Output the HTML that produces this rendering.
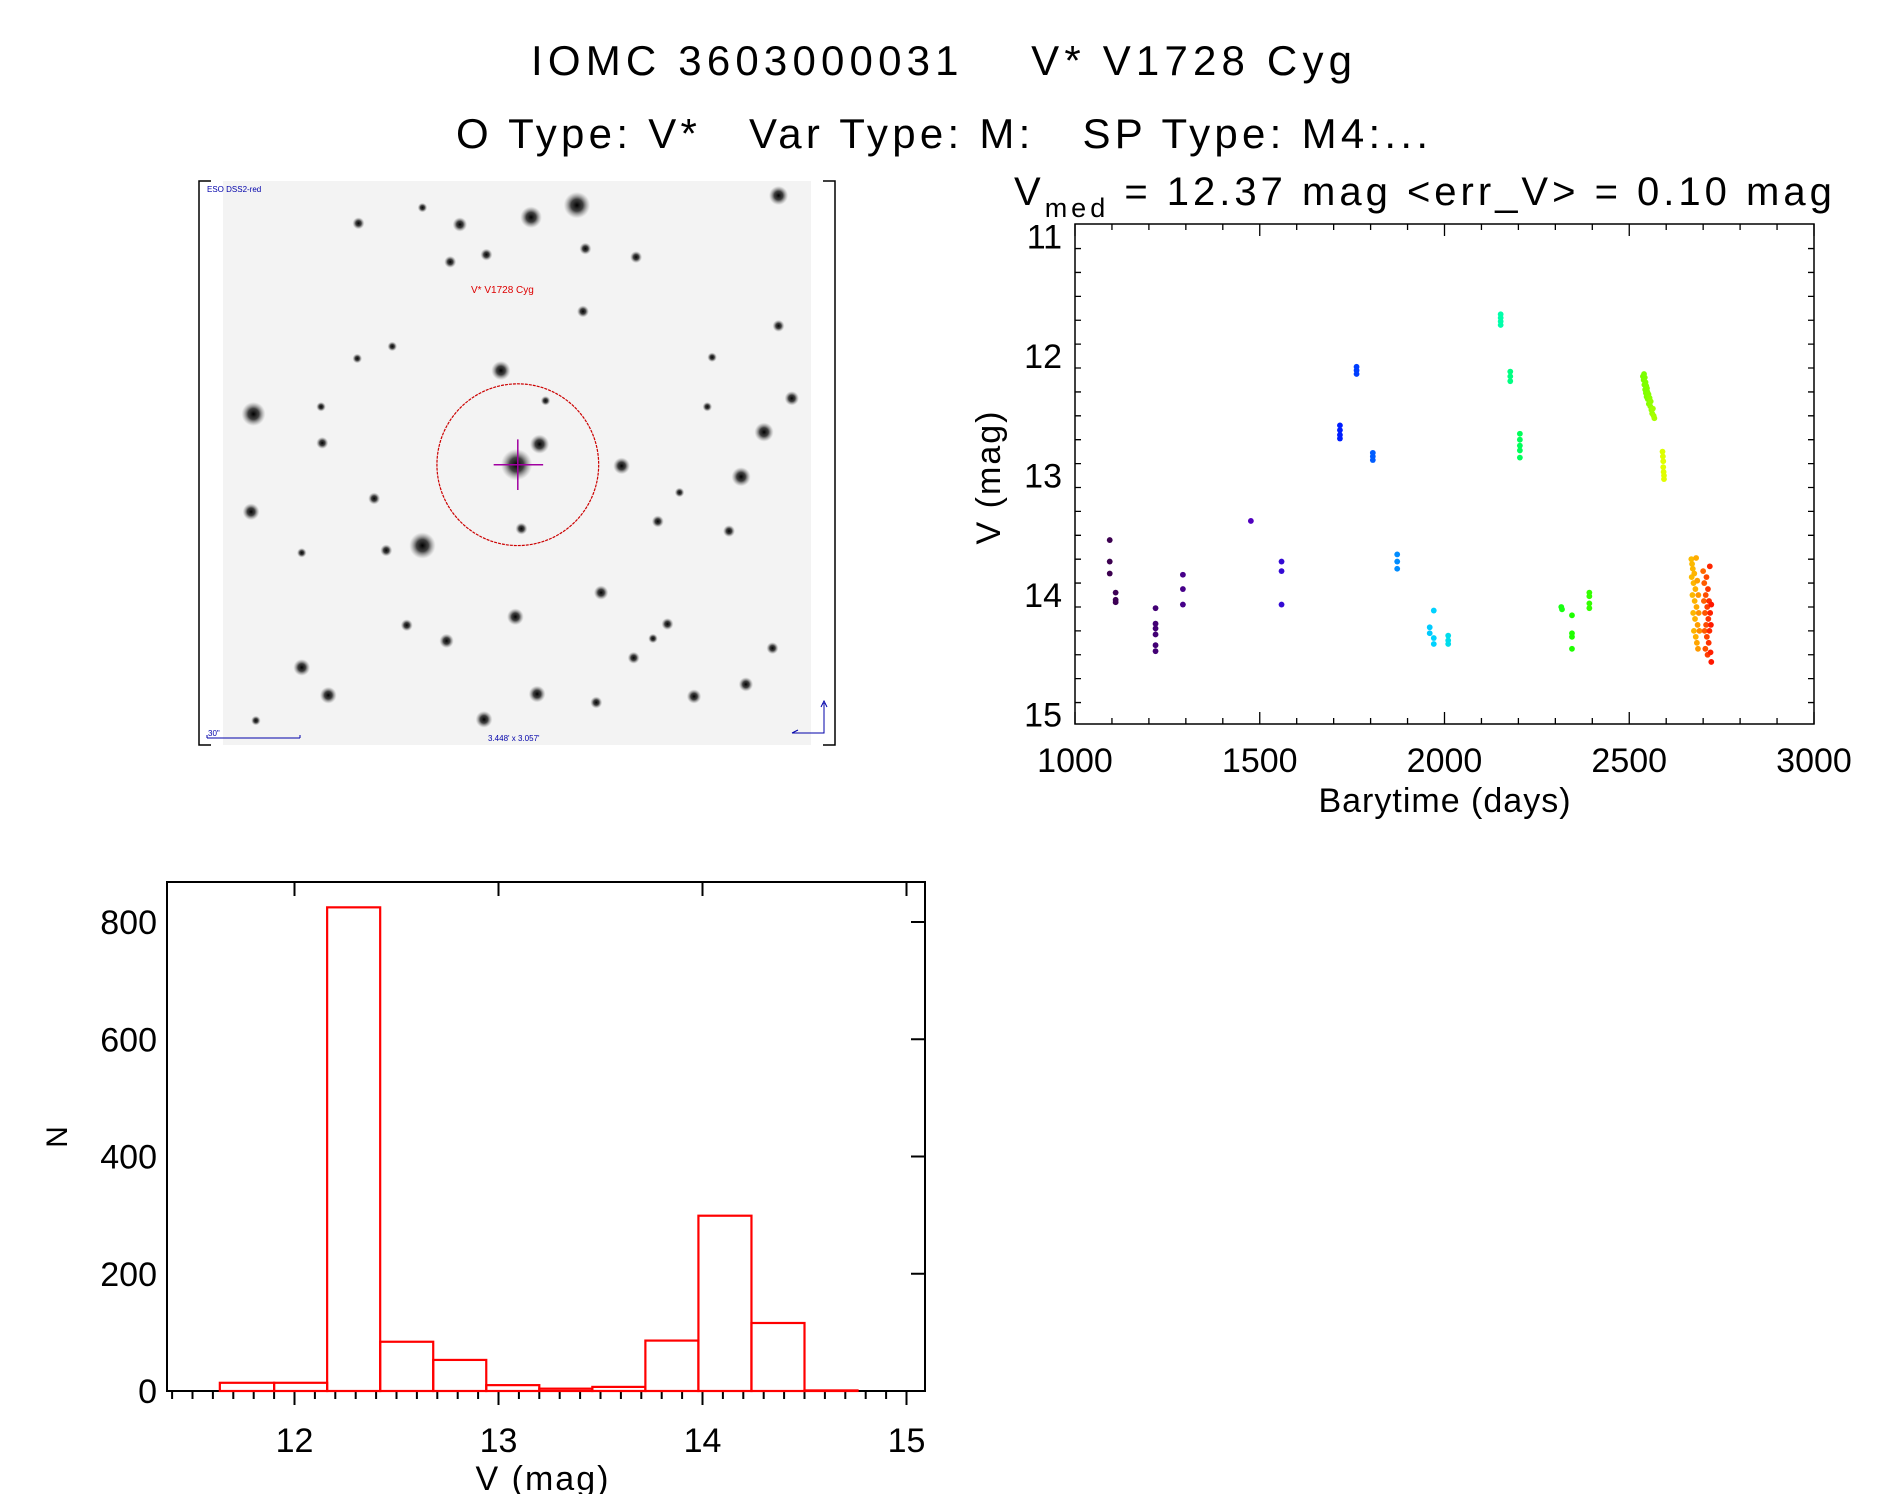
<!DOCTYPE html>
<html><head><meta charset="utf-8"><style>
body{margin:0;background:#fff;}
svg{display:block;font-family:"Liberation Sans",sans-serif;}
</style></head><body>
<svg id="root" width="1889" height="1494" viewBox="0 0 1889 1494" xmlns="http://www.w3.org/2000/svg">
<text x="531" y="75" font-size="42" textLength="821" lengthAdjust="spacing" xml:space="preserve">IOMC 3603000031    V* V1728 Cyg</text>
<text x="456" y="148" font-size="42" textLength="972" lengthAdjust="spacing" xml:space="preserve">O Type: V*   Var Type: M:   SP Type: M4:...</text>
<text x="1014" y="205" font-size="40" letter-spacing="4" xml:space="preserve">V<tspan font-size="27" dy="12">med</tspan><tspan dy="-12"> = 12.37 mag &lt;err_V&gt; = 0.10 mag</tspan></text>
<g id="img"></g>
<g id="lc"></g>
<g id="hist"></g>
</svg>
<script>
// ---------- light curve data ----------
const lcTimes = [1094,1094,1094,1110,1110,1110,
 1218,1218,1218,1218,1218,1218,
 1292,1292,1292,1476,1559,1559,1559,
 1717,1717,1717,1717,1762,1762,1762,1806,1806,1806,
 1872,1872,1872,1960,1960,1971,1971,1971,2010,2010,2010,
 2152,2152,2152,2152,2178,2178,2178,2204,2204,2204,2204,2204,
 2316,2318,2345,2345,2345,2345,2392,2392,2392,2392,
 2537,2539,2540,2541,2542,2543,2544,2545,2546,2547,2548,2549,2550,2552,2553,2555,2557,2558,2560,2562,2564,2566,2568,
 2590,2591,2592,2592,2593,2594,2594,
 2668,2669,2670,2671,2672,2673,2674,2675,2676,2677,2678,2679,2680,2681,2682,2683,2684,2685,2686,2687,2688,2690,
 2700,2702,2703,2704,2705,2706,2707,2708,2709,2710,2711,2712,2713,2714,2715,2716,2717,2718,2719,2720,2721,2722,2722];
const lcMags = [13.54,13.72,13.82,13.98,14.04,14.06,
 14.11,14.24,14.28,14.33,14.42,14.47,
 13.83,13.95,14.08,13.38,13.72,13.80,14.08,
 12.58,12.62,12.66,12.69,12.09,12.12,12.15,12.81,12.84,12.87,
 13.66,13.72,13.78,14.27,14.32,14.13,14.36,14.41,14.34,14.38,14.41,
 11.65,11.68,11.71,11.74,12.13,12.17,12.21,12.65,12.70,12.75,12.79,12.85,
 14.10,14.12,14.17,14.32,14.35,14.45,13.98,14.01,14.07,14.11,
 12.17,12.20,12.15,12.24,12.18,12.28,12.22,12.31,12.25,12.34,12.27,12.30,12.36,12.32,12.40,12.35,12.42,12.38,12.45,12.48,12.44,12.50,12.52,
 12.80,12.84,12.88,12.93,12.97,13.00,13.03,
 13.70,13.85,13.74,14.00,13.78,14.15,13.90,14.30,13.82,14.05,14.20,13.95,14.35,13.69,14.10,14.40,13.88,14.25,14.45,14.00,14.15,14.30,
 13.80,14.05,13.90,14.30,14.15,14.45,14.00,14.25,13.85,14.35,14.10,14.50,13.95,14.20,14.40,14.05,14.30,13.76,14.15,14.48,14.25,14.56,14.08];
const lcXTicks = [1000,1500,2000,2500,3000];
const lcYTicks = [11,12,13,14,15];

// ---------- histogram data ----------
const binEdges = [11.634,11.90,12.16,12.42,12.68,12.94,13.20,13.46,13.72,13.98,14.24,14.50,14.76];
const binCounts = [14,14,825,84,53,10,4,7,86,299,116,1];
const histXTicks = [12,13,14,15];
const histYTicks = [0,200,400,600,800];

const NS='http://www.w3.org/2000/svg';
function mk(parent,tag,attrs){const e=document.createElementNS(NS,tag);for(const k in attrs)e.setAttribute(k,attrs[k]);parent.appendChild(e);return e;}

// ---------- finder image ----------
(function(){
 const g=document.getElementById('img');
 const S=1.207;
 const r1=mk(g,'rect',{x:223,y:181,width:588,height:564,fill:'#f3f3f3'});
 
 
 const fr=mk(g,'path',{d:'M211 181 H199 V745 H211 M823 181 H835 V745 H823',fill:'none',stroke:'#000','stroke-width':1.5});
 
 
 const defs=mk(g,'defs',{});
 const rg=mk(defs,'radialGradient',{id:'st'});
 mk(rg,'stop',{offset:'0','stop-color':'#000','stop-opacity':'1'});
 mk(rg,'stop',{offset:'0.45','stop-color':'#222','stop-opacity':'0.85'});
 mk(rg,'stop',{offset:'1','stop-color':'#888','stop-opacity':'0'});
 const stars=[[478,170,11],[440,180,9],[645,162,8],[210,343,10],[350,452,11],[428,385,13],[447,368,8],[633,358,8],[614,395,8],[415,307,8],[208,424,7],[427,511,7],[515,386,7],[272,576,7],[250,553,7],[445,575,7],[401,596,7],[370,531,6],[498,491,6],[656,330,6],[575,577,6],[618,567,6],[604,440,5],[545,432,5],[320,456,5],[553,517,5],[525,545,5],[403,211,5],[373,217,5],[527,213,5],[483,258,5],[267,367,5],[310,413,5],[645,270,5],[590,296,4],[297,185,5],[350,172,4],[381,186,6],[485,206,5],[432,438,5],[266,337,4],[337,518,5],[494,582,5],[541,529,4],[640,537,5],[586,337,4],[212,597,4],[452,332,4],[325,287,4],[296,297,4],[563,408,4],[250,458,4]];
 stars.forEach(s=>{const c=mk(g,'circle',{cx:s[0]*S,cy:s[1]*S,r:s[2]*S,fill:'url(#st)'});
  
  });
 const circ=mk(g,'circle',{cx:429*S,cy:385*S,r:67*S,fill:'none',stroke:'#c00','stroke-width':1.2,'stroke-dasharray':'3 1'});
 
 
 const cr=mk(g,'path',{d:`M${409*S} ${385*S}H${450*S}M${429*S} ${364*S}V${406*S}`,stroke:'#a000a0','stroke-width':1.5});
 
 
 const t=mk(g,'text',{x:471,y:293,'font-size':10,fill:'#d00'});t.textContent='V* V1728 Cyg';
 
 
 const t2=mk(g,'text',{x:207,y:192,'font-size':8,fill:'#00a'});t2.textContent='ESO DSS2-red';
 
 
 const t3=mk(g,'text',{x:488,y:741,'font-size':8,fill:'#00a'});t3.textContent="3.448' x 3.057'";
 
 
 const t4=mk(g,'text',{x:208,y:736,'font-size':8,fill:'#00a'});t4.textContent='30"';
 
 
 const sb=mk(g,'path',{d:'M207 738H300M207 735V738M300 735V738',stroke:'#00a',fill:'none','stroke-width':1});
 
 
 const cp=mk(g,'path',{d:'M792 733H824V703M821 707L824 701L827 707M792 733L798 730',stroke:'#00a',fill:'none','stroke-width':1});
 
 
})();

// ---------- light curve ----------
(function(){
 const g=document.getElementById('lc');
 const L=1075,R=1814,T=224,B=724;
 const x=v=>L+(v-1000)/2000*(R-L);
 const y=m=>236.6+(m-11)*(714.5-236.6)/4;
 const stops=[[1094,[60,0,80]],[1476,[80,0,190]],[1717,[0,30,255]],[1872,[0,140,255]],[1970,[0,210,255]],[2152,[0,255,170]],[2204,[0,255,90]],[2345,[30,255,0]],[2550,[128,255,0]],[2592,[224,255,0]],[2680,[255,176,0]],[2724,[255,16,0]]];
 function col(t){for(let i=0;i<stops.length-1;i++){const a=stops[i],b=stops[i+1];if(t<=b[0]){const f=Math.max(0,(t-a[0])/(b[0]-a[0]));return 'rgb('+a[1].map((c,k)=>Math.round(c+(b[1][k]-c)*f)).join(',')+')';}}return 'rgb(255,16,0)';}
 const frame=mk(g,'rect',{x:L,y:T,width:R-L,height:B-T,fill:'none',stroke:'#000','stroke-width':1.5});
 
 
 let d='';
 for(let v=1000;v<=3000;v+=100){const len=v%500===0?12:6;const px=x(v);d+=`M${px} ${B}v${-len}M${px} ${T}v${len}`;}
 for(let k=0;k<=21;k++){const m=10.9+k*0.2; const mm=Math.round(m*10)/10; if(mm<10.92||mm>15.08)continue;const len=Math.abs(mm-Math.round(mm))<0.01?12:6;const py=y(mm);d+=`M${L} ${py}h${len}M${R} ${py}h${-len}`;}
 const ticks=mk(g,'path',{d:d,stroke:'#000','stroke-width':1.3,fill:'none'});
 
 
 lcXTicks.forEach(v=>{const t=mk(g,'text',{x:x(v),y:772,'font-size':34,'text-anchor':'middle'});t.textContent=v;
  
  });
 lcYTicks.forEach(v=>{const t=mk(g,'text',{x:1062,y:y(v)+12,'font-size':34,'text-anchor':'end'});t.textContent=v;
  
  });
 const xt=mk(g,'text',{x:1445,y:812,'font-size':34,'text-anchor':'middle','letter-spacing':1});xt.textContent='Barytime (days)';
 
 
 const yt=mk(g,'text',{x:0,y:0,'font-size':34,'text-anchor':'middle','letter-spacing':2,transform:'translate(1000,477) rotate(-90)'});yt.textContent='V (mag)';
 
 
 lcTimes.forEach((t,i)=>{const c=mk(g,'circle',{cx:x(t),cy:y(lcMags[i]),r:2.9,fill:col(t)});
  
  });
})();

// ---------- histogram ----------
(function(){
 const g=document.getElementById('hist');
 const L=167,R=925,T=882,B=1391;
 const x=v=>294.5+(v-12)*(906.5-294.5)/3;
 const y=n=>B-n*(B-922)/800;
 const fr=mk(g,'rect',{x:L,y:T,width:R-L,height:B-T,fill:'none',stroke:'#000','stroke-width':2});
 
 
 let d='';
 for(let k=114;k<=150;k++){const v=k/10;const px=x(v);if(px<L+2||px>R)continue;const major=k%10===0;d+=`M${px} ${B}v${major?14:8}`;if(major)d+=`M${px} ${T}v14`;}
 histYTicks.forEach(n=>{d+=`M${R} ${y(n)}h-14`;});
 const tk=mk(g,'path',{d:d,stroke:'#000','stroke-width':2,fill:'none'});
 
 
 histXTicks.forEach(v=>{const t=mk(g,'text',{x:x(v),y:1452,'font-size':34,'text-anchor':'middle'});t.textContent=v;
  
  });
 histYTicks.forEach(n=>{const t=mk(g,'text',{x:157,y:y(n)+12,'font-size':34,'text-anchor':'end'});t.textContent=n;
  
  });
 const xt=mk(g,'text',{x:543,y:1490,'font-size':34,'text-anchor':'middle','letter-spacing':2});xt.textContent='V (mag)';
 
 
 const yt=mk(g,'text',{x:0,y:0,'font-size':30,'text-anchor':'middle',transform:'translate(67,1137) rotate(-90)'});yt.textContent='N';
 
 
 binCounts.forEach((n,i)=>{const x0=x(binEdges[i]),x1=x(binEdges[i+1]);
  const b=mk(g,'rect',{x:x0,y:y(n),width:x1-x0,height:Math.max(0,B-y(n)),fill:'none',stroke:'#f00','stroke-width':2.2});
  
  });
})();
</script>
</body></html>
